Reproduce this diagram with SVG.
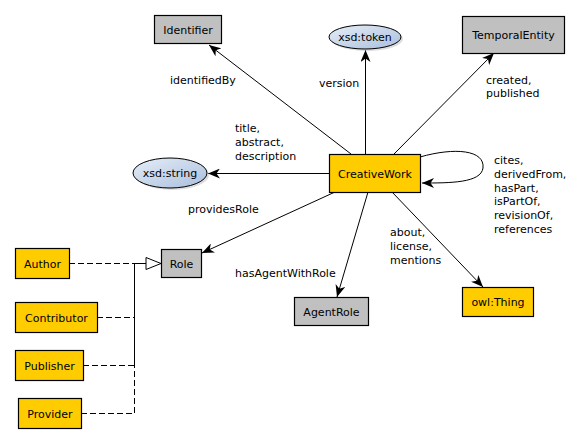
<svg xmlns="http://www.w3.org/2000/svg" width="588" height="443" viewBox="0 0 588 443">
<style>
text{font-family:"DejaVu Sans","Liberation Sans",sans-serif;font-size:11px;fill:#000}
.cls{fill:#c0c0c0;stroke:#000;stroke-width:1.2}
.gold{fill:#ffcc00;stroke:#000;stroke-width:1.2}
.dt{fill:url(#blue);stroke:#000;stroke-width:1}
.e{fill:none;stroke:#000;stroke-width:1}
.d{fill:none;stroke:#000;stroke-width:1;stroke-dasharray:6,3}
.c{text-anchor:middle}
</style>
<defs>
<linearGradient id="blue" x1="0" y1="0" x2="1" y2="1">
<stop offset="0" stop-color="#e6eef8"/>
<stop offset="1" stop-color="#a9bedc"/>
</linearGradient>
<marker id="arr" viewBox="0 0 12 10" refX="12" refY="5" markerWidth="12" markerHeight="10" markerUnits="userSpaceOnUse" orient="auto">
<path d="M0,0 L12,5 L0,10 L3.5,5 z" fill="#000"/>
</marker>
</defs>
<g id="connectors">
<line class="e" x1="351" y1="154" x2="209" y2="45" marker-end="url(#arr)"/>
<line class="e" x1="365.5" y1="154" x2="365.5" y2="50" marker-end="url(#arr)"/>
<line class="e" x1="394" y1="154" x2="494" y2="53" marker-end="url(#arr)"/>
<line class="e" x1="329" y1="173.5" x2="208" y2="173.5" marker-end="url(#arr)"/>
<path class="e" d="M420,157 C455,147 485,150 483,168 C481,183 450,183 422,183" marker-end="url(#arr)"/>
<line class="e" x1="335" y1="192" x2="202" y2="253" marker-end="url(#arr)"/>
<line class="e" x1="368" y1="192" x2="337" y2="297" marker-end="url(#arr)"/>
<line class="e" x1="392" y1="192" x2="483" y2="287" marker-end="url(#arr)"/>
<polyline class="d" points="69,263.5 134.5,263.5 146,263.5"/>
<polyline class="d" points="97,317.5 134.5,317.5 134.5,263.5 146,263.5"/>
<polyline class="d" points="83,365.5 134.5,365.5 134.5,263.5 146,263.5"/>
<polyline class="d" points="81,413.5 134.5,413.5 134.5,263.5 146,263.5"/>
<polygon points="146,257.5 161,263.5 146,269.5" fill="#fff" stroke="#000" stroke-width="1"/>
</g>
<g id="labels">
<text x="170" y="84">identifiedBy</text>
<text x="235" y="132">title,</text>
<text x="235" y="146">abstract,</text>
<text x="235" y="160">description</text>
<text x="188" y="213">providesRole</text>
<text x="319" y="87">version</text>
<text x="486" y="84">created,</text>
<text x="486" y="97">published</text>
<text x="494" y="164">cites,</text>
<text x="494" y="178">derivedFrom,</text>
<text x="494" y="192">hasPart,</text>
<text x="494" y="205">isPartOf,</text>
<text x="494" y="219">revisionOf,</text>
<text x="494" y="233">references</text>
<text x="390" y="236">about,</text>
<text x="390" y="250">license,</text>
<text x="390" y="264">mentions</text>
<text x="235" y="277">hasAgentWithRole</text>
</g>
<g id="Identifier"><rect class="cls" x="154.5" y="15.5" width="67" height="28"/><text class="c" x="188" y="33.5">Identifier</text></g>
<g id="xsd_token"><ellipse cx="367" cy="39" rx="36" ry="12" fill="#bbb" opacity="0.5"/><ellipse class="dt" cx="365" cy="37" rx="36" ry="12"/><text class="c" x="365" y="41">xsd:token</text></g>
<g id="TemporalEntity"><rect class="cls" x="462.5" y="16.5" width="102" height="37"/><text class="c" x="513.5" y="39">TemporalEntity</text></g>
<g id="CreativeWork"><rect class="gold" x="329.5" y="154.5" width="91" height="38"/><text class="c" x="375" y="177.5">CreativeWork</text></g>
<g id="xsd_string"><ellipse cx="172" cy="175" rx="37" ry="15" fill="#bbb" opacity="0.5"/><ellipse class="dt" cx="170" cy="173" rx="37" ry="15"/><text class="c" x="170" y="177">xsd:string</text></g>
<g id="Role"><rect class="cls" x="161.5" y="249.5" width="40" height="28"/><text class="c" x="181.5" y="267.5">Role</text></g>
<g id="AgentRole"><rect class="cls" x="294.5" y="297.5" width="74" height="28"/><text class="c" x="331.5" y="315.5">AgentRole</text></g>
<g id="owl_Thing"><rect class="gold" x="462.5" y="287.5" width="71" height="29"/><text class="c" x="498" y="306">owl:Thing</text></g>
<g id="Author"><rect class="gold" x="15.5" y="248.5" width="54" height="30"/><text class="c" x="42.5" y="267.5">Author</text></g>
<g id="Contributor"><rect class="gold" x="15.5" y="302.5" width="82" height="30"/><text class="c" x="56.5" y="321.5">Contributor</text></g>
<g id="Publisher"><rect class="gold" x="15.5" y="350.5" width="68" height="30"/><text class="c" x="49.5" y="369.5">Publisher</text></g>
<g id="Provider"><rect class="gold" x="18.5" y="398.5" width="63" height="30"/><text class="c" x="50" y="417.5">Provider</text></g>
</svg>
